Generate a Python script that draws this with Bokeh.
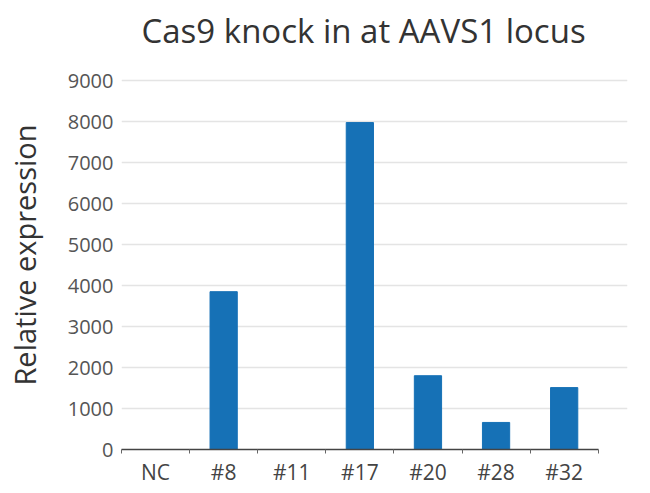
from bokeh.plotting import figure
from bokeh.models import Range1d, FixedTicker
from bokeh.embed import file_html
from bokeh.resources import INLINE

categories = ["NC", "#8", "#11", "#17", "#20", "#28", "#32"]
values = [0, 3850, 0, 7975, 1800, 660, 1510]
y_ticks = [0, 1000, 2000, 3000, 4000, 5000, 6000, 7000, 8000, 9000]
title_text = "Cas9 knock in at AAVS1 locus"
y_label = "Relative expression"

FONT = "Open Sans"
n = len(categories)
xs = list(range(n))
boundaries = [i - 0.5 for i in range(n + 1)]

# layout (pixels): frame top / bottom, and where the top tick should sit
FRAME_TOP = 60
FRAME_BOTTOM = 448
TOP_TICK_PX = 80
y_end = y_ticks[-1] * (FRAME_BOTTOM - FRAME_TOP) / (FRAME_BOTTOM - TOP_TICK_PX)

p = figure(width=634, height=488, output_backend="svg", toolbar_location=None,
           x_range=Range1d(-0.5, n - 0.5 + 0.43), y_range=Range1d(0, y_end),
           min_border_left=121, min_border_right=7, min_border_top=FRAME_TOP, min_border_bottom=36)

p.vbar(x=xs, top=values, width=0.4, fill_color="#1671b6", line_color="#1671b6")

p.title.text = title_text
p.title.text_font = FONT
p.title.text_font_size = "33px"
p.title.text_font_style = "normal"
p.title.text_color = "#333333"
p.title.align = "left"
p.title.vertical_align = "top"
p.title.offset = 20
p.title.standoff = 12

p.outline_line_color = None
p.xgrid.grid_line_color = None
p.ygrid.grid_line_color = "#e4e4e4"
p.ygrid.grid_line_width = 1.5

xa = p.xaxis[0]
xa.ticker = FixedTicker(ticks=xs, minor_ticks=boundaries)
xa.major_label_overrides = {i: c for i, c in enumerate(categories)}
xa.bounds = (boundaries[0], boundaries[-1])
xa.axis_line_color = "#444444"
xa.axis_line_width = 1.5
xa.major_tick_line_color = None
xa.major_tick_out = 0
xa.major_tick_in = 0
xa.minor_tick_line_color = "#666666"
xa.minor_tick_in = 0
xa.minor_tick_out = 4
xa.major_label_text_font = FONT
xa.major_label_text_font_size = "21px"
xa.major_label_text_color = "#444444"
xa.major_label_standoff = 4
xa.axis_label_standoff = 0

ya = p.yaxis[0]
ya.ticker = FixedTicker(ticks=y_ticks)
ya.axis_line_color = None
ya.major_tick_line_color = None
ya.major_tick_out = 0
ya.major_tick_in = 0
ya.minor_tick_line_color = None
ya.major_label_text_font = FONT
ya.major_label_text_font_size = "20px"
ya.major_label_text_color = "#555555"
ya.major_label_standoff = 8
ya.axis_label = y_label
ya.axis_label_text_font = FONT
ya.axis_label_text_font_size = "29px"
ya.axis_label_text_font_style = "normal"
ya.axis_label_text_color = "#333333"
ya.axis_label_standoff = 21

open("out.html", "w").write(file_html(p, INLINE))
